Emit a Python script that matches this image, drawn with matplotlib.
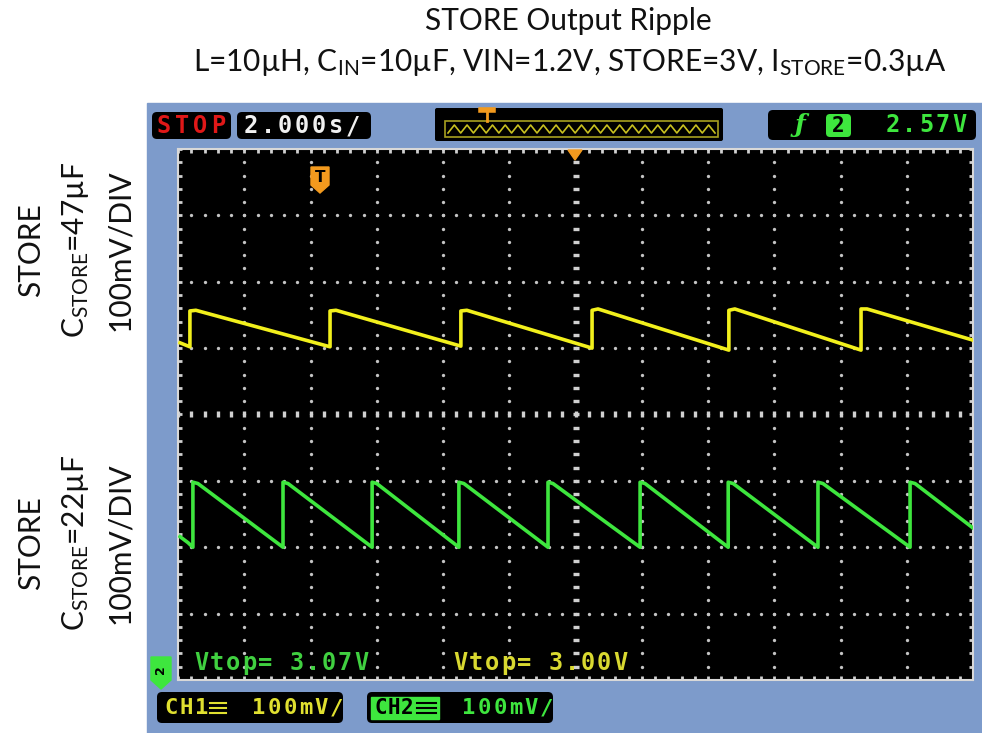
import matplotlib
matplotlib.use('Agg')
import matplotlib.pyplot as plt
from matplotlib.patches import Rectangle, FancyBboxPatch, Polygon
import numpy as np

plt.rcParams['mathtext.fontset'] = 'custom'
plt.rcParams['mathtext.rm'] = 'Lato'
plt.rcParams['mathtext.it'] = 'Lato:italic'
plt.rcParams['mathtext.bf'] = 'Lato:bold'

# ---------------- data (time in s, value in divisions) ----------------
title_line1 = "STORE Output Ripple"
title_line2 = r"L=10µH, C$_{\mathrm{IN}}$=10µF, VIN=1.2V, STORE=3V, I$_{\mathrm{STORE}}$=0.3µA"
label_top = ["STORE", r"C$_{\mathrm{STORE}}$=47µF", "100mV/DIV"]
label_bot = ["STORE", r"C$_{\mathrm{STORE}}$=22µF", "100mV/DIV"]

# CH1 (yellow, C_STORE = 47uF) trace vertices
ch1_t = [-11.94, -11.64, -11.64, -11.46, -7.41, -7.41, -7.23, -3.46, -3.46, -3.28,
         0.50, 0.50, 0.68, 4.63, 4.63, 4.81, 8.62, 8.62, 8.80, 12.0]
ch1_v = [1.08, 1.02, 1.56, 1.57, 1.02, 1.56, 1.57, 1.03, 1.56, 1.57,
         1.00, 1.57, 1.59, 0.97, 1.57, 1.59, 0.97, 1.59, 1.59, 1.12]

# CH2 (green, C_STORE = 22uF) trace vertices
ch2_t = [-11.94, -11.70, -11.55, -11.55, -11.40, -8.83, -8.83, -8.68, -6.14, -6.14, -6.00,
         -3.52, -3.52, -3.37, -0.83, -0.83, -0.68, 1.95, 1.95, 2.10, 4.61, 4.61, 4.76,
         7.32, 7.32, 7.47, 10.10, 10.10, 10.25, 12.0]
ch2_v = [-1.84, -1.93, -2.00, -1.02, -1.04, -2.00, -1.02, -1.04, -2.00, -1.02, -1.04,
         -2.00, -1.02, -1.04, -2.00, -1.02, -1.04, -2.00, -1.02, -1.04, -2.00, -1.02, -1.04,
         -2.00, -1.02, -1.04, -2.00, -1.02, -1.04, -1.71]

time_per_div = "2.000s/"
trig_level = "2.57V"
ch1_scale = "100mV/"
ch2_scale = "100mV/"
meas1 = "Vtop= 3.07V"
meas2 = "Vtop= 3.00V"

# ---------------- figure ----------------
W, H = 982, 733
fig = plt.figure(figsize=(W / 100, H / 100), dpi=100)
fig.patch.set_facecolor('white')

bg = fig.add_axes([0, 0, 1, 1])
bg.set_xlim(0, W); bg.set_ylim(H, 0); bg.axis('off')

BLUE = '#7d9bcb'
YEL = '#f2f01c'
GRN = '#3ee63e'
ORANGE = '#f39a1e'

bg.add_patch(Rectangle((147, 103), W - 147, H - 103, color=BLUE, zorder=0))

# titles
bg.text(568, 21, title_line1, ha='center', va='center', fontsize=21.5, family='Lato', color='#111111')
bg.text(570, 63, title_line2, ha='center', va='center', fontsize=21.5, family='Lato', color='#111111')

# side labels
for xs, lab in zip([31, 76, 120], label_top):
    bg.text(xs, 250, lab, rotation=90, ha='center', va='center', fontsize=21.5, family='Lato', color='#111111')
for xs, lab in zip([31, 76, 120], label_bot):
    bg.text(xs, 543, lab, rotation=90, ha='center', va='center', fontsize=21.5, family='Lato', color='#111111')


def rbox(ax, x0, y0, x1, y1, fc, ec='none', r=5, lw=1, z=2):
    ax.add_patch(FancyBboxPatch((x0, y0), x1 - x0, y1 - y0,
                                boxstyle=f'round,pad=0,rounding_size={r}',
                                fc=fc, ec=ec, lw=lw, zorder=z))


def mono(ax, x, y, s, pitch, color, size=14, z=5):
    for i, ch in enumerate(s):
        if ch == ' ':
            continue
        ax.text(x + i * pitch, y, ch, color=color, fontsize=size, family='DejaVu Sans Mono',
                weight='bold', ha='center', va='center', zorder=z)


# top status bar
rbox(bg, 152, 112, 231, 139, 'black')
mono(bg, 164, 126, "STOP", 18, '#e01818', 17)
rbox(bg, 237, 112, 371, 139, 'black')
mono(bg, 251, 126, time_per_div, 17, '#f0f0f0', 17)

rbox(bg, 435, 108, 723, 141, 'black', r=2)
bg.add_patch(Rectangle((445, 121), 273, 16, fc='none', ec='#a8a020', lw=1.2, zorder=3))
zx = np.linspace(448, 715, 43)
zy = np.where(np.arange(43) % 2 == 0, 133, 125)
bg.plot(zx, zy, color='#c8c020', lw=1.2, zorder=4)
bg.plot([487, 487], [110, 121], color=ORANGE, lw=2, zorder=4)
bg.plot([481, 493], [110, 110], color=ORANGE, lw=4, zorder=4)

rbox(bg, 768, 110, 976, 140, 'black')
bg.text(800, 125, 'ƒ', color=GRN, fontsize=18, weight='bold', style='italic', ha='center', va='center',
        family='DejaVu Serif', zorder=5)
rbox(bg, 826, 114, 851, 137, GRN, r=4, z=4)
bg.text(838.5, 125.5, '2', color='black', fontsize=15, weight='bold', family='DejaVu Sans Mono',
        ha='center', va='center', zorder=5)
mono(bg, 893, 125, trig_level, 16.5, GRN, 17)

# bottom channel boxes
rbox(bg, 157, 692, 343, 723, 'black')
mono(bg, 171, 708, "CH", 15, '#e0e030', 16)
mono(bg, 202, 708, "1", 15, '#e0e030', 16)
for yy in (703, 708, 713):
    bg.plot([210, 226], [yy, yy], color='#e0e030', lw=1.5, zorder=5)
mono(bg, 259, 708, ch1_scale, 15.5, '#e0e030', 16)

rbox(bg, 367, 692, 553, 723, 'black')
bg.add_patch(Rectangle((371, 697), 68, 22, color=GRN, zorder=4))
mono(bg, 381, 708, "CH2", 13, 'black', 15)
for yy in (703, 708, 713):
    bg.plot([417, 436], [yy, yy], color='black', lw=1.5, zorder=5)
mono(bg, 469, 708, ch2_scale, 15.5, GRN, 16)

# ---------------- scope screen ----------------
L, R, T, B = 178, 973, 149, 680
sc = fig.add_axes([L / W, (H - B) / H, (R - L) / W, (B - T) / H])
sc.set_facecolor('black')
sc.set_xlim(-12, 12); sc.set_ylim(-4, 4)
sc.set_xticks([]); sc.set_yticks([])
for sp in sc.spines.values():
    sp.set_color('#d8d8d8'); sp.set_linewidth(1.5)

DOT = '#c4c4c4'
vdots = np.arange(-4, 4.001, 0.2)
hdots = np.arange(-12, 12.001, 0.4)
for tx in np.arange(-10, 10.1, 2):
    if abs(tx) < 1e-6:
        continue
    sc.plot(np.full_like(vdots, tx), vdots, ls='none', marker='o', ms=2.4, color=DOT, mec='none')
for vy in np.arange(-3, 3.1, 1):
    if abs(vy) < 1e-6:
        continue
    sc.plot(hdots, np.full_like(hdots, vy), ls='none', marker='o', ms=2.4, color=DOT, mec='none')
# center axes with ticks
sc.plot(np.zeros_like(vdots), vdots, ls='none', marker='_', ms=5, mew=2.4, color='#d0d0d0')
sc.plot(hdots, np.zeros_like(hdots), ls='none', marker='|', ms=5, mew=2.4, color='#d0d0d0')
# edge ticks
sc.plot(hdots, np.full_like(hdots, 3.97), ls='none', marker='|', ms=3.5, mew=2, color='#d0d0d0')
sc.plot(hdots, np.full_like(hdots, -3.97), ls='none', marker='|', ms=3.5, mew=2, color='#d0d0d0')
sc.plot(np.full_like(vdots, -11.93), vdots, ls='none', marker='_', ms=3.5, mew=2, color='#d0d0d0')
sc.plot(np.full_like(vdots, 11.93), vdots, ls='none', marker='_', ms=3.5, mew=2, color='#d0d0d0')

# traces
sc.plot(ch1_t, ch1_v, color=YEL, lw=2.6, solid_joinstyle='round', zorder=6)
sc.plot(ch2_t, ch2_v, color=GRN, lw=2.6, solid_joinstyle='round', zorder=6)

# ---------------- foreground overlay ----------------
fg = fig.add_axes([0, 0, 1, 1])
fg.set_xlim(0, W); fg.set_ylim(H, 0); fg.axis('off')
fg.patch.set_alpha(0)

mono(fg, 201, 663, meas1, 16, '#40d040', 17)
mono(fg, 460, 663, meas2, 16, '#d8d830', 17)

fg.add_patch(Polygon([(311, 167), (329, 167), (329, 185), (320, 193), (311, 185)], color=ORANGE, zorder=7))
fg.text(320, 178, 'T', color='black', fontsize=11, weight='bold', ha='center', va='center', zorder=8)
fg.add_patch(Polygon([(568, 150), (582, 150), (575, 160)], color=ORANGE, zorder=7))
fg.add_patch(Polygon([(151, 657), (171, 657), (171, 680), (161, 689), (151, 680)], color=GRN, zorder=7))
fg.text(161, 670, '2', color='black', fontsize=9, weight='bold', rotation=90, ha='center', va='center', zorder=8)

fig.savefig('out.png', dpi=100, facecolor='white')
